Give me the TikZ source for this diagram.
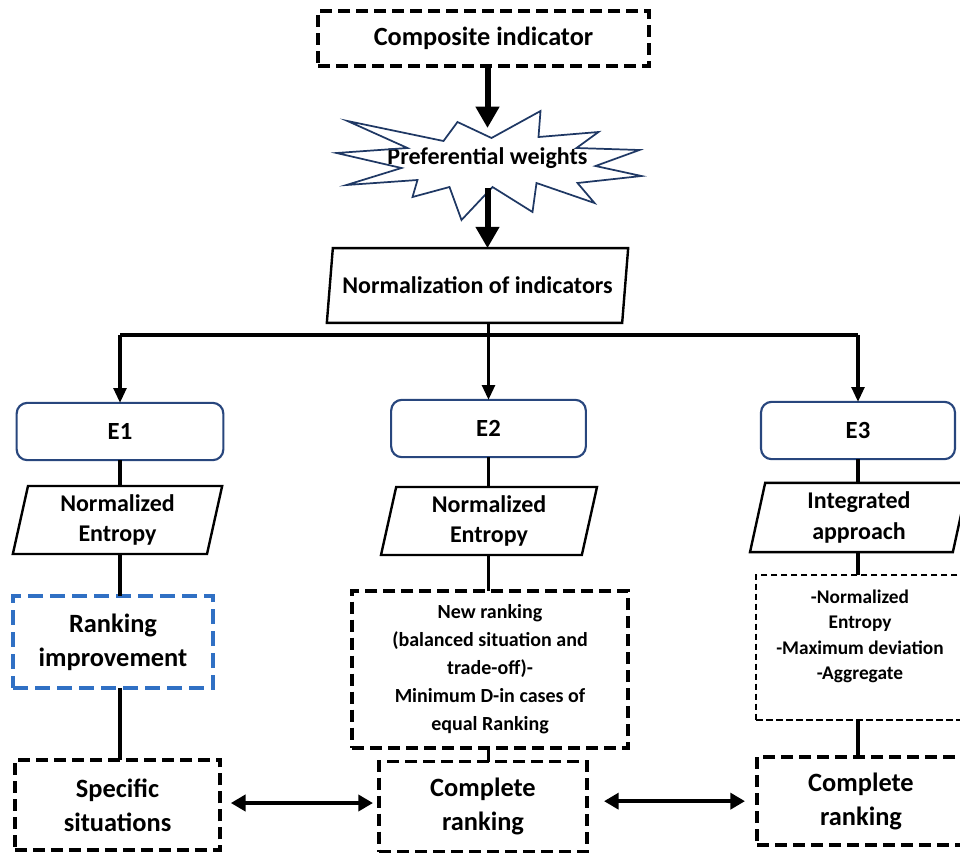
\documentclass[tikz,border=0pt]{standalone}
\usepackage{fontspec}
\setmainfont{Carlito}
\usepackage{xcolor}
\usepackage{tikz}
\usetikzlibrary{shapes.geometric, arrows.meta, positioning, calc}
\definecolor{framenavy}{RGB}{40,70,125}
\definecolor{starnavy}{RGB}{31,56,100}
\definecolor{rankblue}{RGB}{48,112,196}
\newcommand{\fsz}[2]{\fontsize{#1}{#2}\selectfont\bfseries}

\begin{document}
\begin{tikzpicture}[
    x=0.75pt, y=-0.75pt,
    every node/.style={align=center, outer sep=0pt, inner sep=2pt},
    dashbox/.style={draw, line width=2.7pt, dash pattern=on 9pt off 4.5pt},
    headbox/.style={dashbox, minimum width=248pt, minimum height=41pt,
                    font=\fsz{19.7}{23}},
    methodbox/.style={draw=framenavy, line width=1.6pt, rounded corners=8pt,
                      minimum height=43pt, font=\fsz{18.5}{22}},
    slantbox/.style={trapezium, trapezium left angle=75,
                     trapezium right angle=105, trapezium stretches body,
                     draw, line width=1.8pt, minimum height=51pt,
                     font=\fsz{18}{23}},
    improvebox/.style={draw=rankblue, line width=3.2pt,
                       dash pattern=on 11pt off 5.5pt,
                       minimum width=150pt, minimum height=69pt,
                       font=\fsz{19.8}{25.5}},
    resultbox/.style={dashbox, minimum height=67.5pt, font=\fsz{19.8}{25.5}},
    notebox/.style={draw, line width=1.2pt, dash pattern=on 5pt off 2.5pt},
    bigarrow/.style={-{Triangle[length=16pt,width=17pt]}, line width=4.5pt},
    arrow/.style={-{Triangle[length=11pt,width=9.5pt]}, line width=2.3pt},
    link/.style={line width=2.4pt},
    dblarrow/.style={{Triangle[length=11pt,width=12pt]}-{Triangle[length=11pt,width=12pt]},
                     line width=3pt},
]
\clip (0,0) rectangle (960,854);

% ── Top: indicator, weights, normalization ─────────────────────────────
\node[headbox] (ci) at (483.5,38.5) {Composite indicator};

\node[minimum width=150pt, minimum height=45pt, font=\fsz{18}{21}]
      (pw) at (487.5,158) {Preferential weights};
\draw[starnavy, line width=1.3pt, shift={(pw.center)}]
      (-140,-37) -- (-44,-17) -- (-30,-36) -- (4,-20) -- (53,-47)
      -- (51,-21) -- (111,-26) -- (89,-10) -- (152,-8) -- (108,8)
      -- (154,18) -- (90,25) -- (107,45) -- (49,25) -- (45,54)
      -- (5,29) -- (-26,62) -- (-38,29) -- (-75,39) -- (-70,22)
      -- (-141,27) -- (-86,10) -- (-151,-5) -- (-80,-10) -- cycle;

\node[slantbox, minimum width=226pt, minimum height=56pt,
      font=\fsz{18}{21}] (norm) at (477.5,285.5)
      {Normalization of indicators};

% ── Column E1 ──────────────────────────────────────────────────────────
\node[methodbox, minimum width=155pt] (e1) at (120,431.5) {E1};
\node[slantbox, minimum width=157pt] (p1) at (117.5,520)
      {Normalized\\Entropy};
\node[improvebox] (r1) at (113,642) {Ranking\\improvement};
\node[resultbox, minimum width=154pt] (s1) at (117.5,805)
      {Specific\\situations};

% ── Column E2 ──────────────────────────────────────────────────────────
\node[methodbox, minimum width=146pt] (e2) at (488.5,428.5) {E2};
\node[slantbox, minimum width=162pt] (p2) at (489,521)
      {Normalized\\Entropy};
\node[dashbox, minimum width=207pt, minimum height=118pt,
      font=\fsz{15}{21}] (b2) at (490,669.5)
      {New ranking\\(balanced situation and\\trade-off)-\\
       Minimum D-in cases of\\equal Ranking};
\node[resultbox, minimum width=156pt] (c2) at (483,806.5)
      {Complete\\ranking};

% ── Column E3 ──────────────────────────────────────────────────────────
\node[methodbox, minimum width=145.5pt] (e3) at (858,430.5) {E3};
\node[slantbox, minimum width=163.5pt, minimum height=52pt] (p3)
      at (859,517.5) {Integrated\\approach};
\node[notebox, minimum width=156pt, minimum height=109pt,
      font=\fsz{14.5}{19}] (b3) at (860,647.5)
      {-Normalized\\Entropy\\-Maximum deviation\\-Aggregate\\[0pt]\mbox{}};
\node[resultbox, minimum width=156pt, minimum height=66pt] (c3)
      at (861,801) {Complete\\ranking};

% ── Arrows ─────────────────────────────────────────────────────────────
\draw[bigarrow] (ci.south -| pw.north) -- (pw.north);
\draw[bigarrow] (pw.south) -- (pw.south |- norm.north);

\coordinate (split) at ($(norm.south -| e2.north)+(0,12)$);
\draw[link] (norm.south -| split) -- (split);
\draw[link, line width=3.5pt] (split -| e1.north) -- (split -| e3.north);
\foreach \n in {e1,e2,e3}
  \draw[arrow] (split -| \n.north) -- (\n.north);

% column links, kept on the line of each E box
\foreach \col/\a/\b in {e1/e1/p1, e1/p1/r1, e1/r1/s1,
                        e2/e2/p2, e2/p2/b2, e2/b2/c2,
                        e3/e3/p3, e3/p3/b3, e3/b3/c3}
  \draw[link] (\a.south -| \col.south) -- (\b.north -| \col.south);

% ranking comparisons
\draw[dblarrow, shorten <=8pt, shorten >=4.5pt]
      ([yshift=1.5pt]s1.east) -- ([yshift=1.5pt]s1.east -| c2.west);
\draw[dblarrow, shorten <=12.75pt, shorten >=9pt]
      ([yshift=4pt]c2.east) -- ([yshift=4pt]c2.east -| c3.west);

\end{tikzpicture}
\end{document}
